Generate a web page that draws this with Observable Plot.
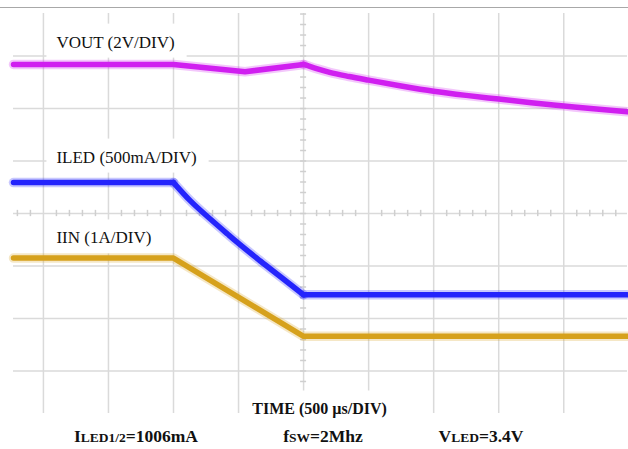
<!DOCTYPE html>
<html>
<head>
<meta charset="utf-8">
<script src="https://cdn.jsdelivr.net/npm/d3@7"></script>
<script src="https://cdn.jsdelivr.net/npm/@observablehq/plot@0.6"></script>
<style>
  html, body { margin: 0; padding: 0; background: #fff; }
  #wrap { position: relative; width: 628px; height: 449px; overflow: hidden; font-family: "Liberation Serif", serif; color: #111; }
  #sep { position: absolute; left: 0; top: 7px; width: 628px; height: 0; border-top: 1.5px solid #a8a8a8; }
  #caption { position: relative; width: 628px; height: 29px; }
  .cap { position: absolute; top: 8px; transform: translateX(-50%); font-weight: bold; font-size: 17.5px; line-height: 17px; white-space: nowrap; }
  .sc { font-size: 13.5px; }
</style>
</head>
<body>
<div id="wrap">
  <div id="chart"></div>
  <div id="caption"></div>
  <div id="sep"></div>
</div>
<script>
// ---- Data (time in µs, values in screen divisions from the centre line) ----
const voutTime = [-2230, -1000, -450, 0, 100, 200, 350, 500, 750, 1000, 1250, 1500, 1750, 2000, 2250, 2490];
const voutDiv  = [2.84, 2.84, 2.70, 2.84, 2.76, 2.69, 2.61, 2.54, 2.43, 2.33, 2.25, 2.18, 2.11, 2.05, 1.99, 1.94];

const iledTime = [-2230, -1000, -870, -715, -585, -500, -330, -175, 0, 2490];
const iledDiv  = [0.59, 0.59, 0.24, -0.11, -0.39, -0.57, -0.91, -1.21, -1.55, -1.55];

const iinTime = [-2230, -1000, 0, 2490];
const iinDiv  = [-0.85, -0.85, -2.34, -2.34];

const traceNames  = ["VOUT (2V/DIV)", "ILED (500mA/DIV)", "IIN (1A/DIV)"];
const traceColors = ["#d01ff0", "#2424fc", "#d6a11c"];
const axisTitle   = "TIME (500 µs/DIV)";
const captions = [
  [["I", false], ["LED1/2", true], ["=1006mA", false]],
  [["f", false], ["SW", true], ["=2Mhz", false]],
  [["V", false], ["LED", true], ["=3.4V", false]]
];

// ---- Build tables ----
const zip = (ts, vs) => ts.map((t, i) => ({t, v: vs[i]}));
const vout = zip(voutTime, voutDiv);
const iled = zip(iledTime, iledDiv);
const iin  = zip(iinTime, iinDiv);

// grid (500 µs/div horizontally, 1 div vertically, 5 minor ticks per div)
const majorTimes = d3.range(-2000, 2001, 500);
const majorDivs  = d3.range(-3, 4, 1);
const minorTimes = d3.range(-2200, 2500, 100).filter(t => t % 500 !== 0);
const minorDivs  = d3.range(-19, 20).map(k => k * 0.2);

const labelRows = [
  {t: -1900, v: 3.16, text: traceNames[0]},
  {t: -1900, v: 0.97, text: traceNames[1]},
  {t: -1900, v: -0.57, text: traceNames[2]}
];

const gridColor = "#dadada";

// draw a trace: sharp corners, smooth (monotone) where the scope trace curves
function trace(data, color, smoothFrom, smoothTo) {
  const parts = smoothFrom == null ? [[data, "linear"]] : [
    [data.filter(d => d.t <= smoothFrom), "linear"],
    [data.filter(d => d.t >= smoothFrom && d.t <= smoothTo), "monotone-x"],
    [data.filter(d => d.t >= smoothTo), "linear"]
  ];
  const marks = [];
  for (const [w, o] of [[9.5, 0.25], [5.5, 1]]) {
    for (const [seg, curve] of parts) {
      if (seg.length > 1) marks.push(Plot.line(seg, {x: "t", y: "v", curve, stroke: color, strokeWidth: w, strokeOpacity: o, strokeLinejoin: "round", strokeLinecap: "round"}));
    }
  }
  return marks;
}

const chart = Plot.plot({
  width: 628,
  height: 420,
  marginLeft: 13,
  marginRight: 1,
  marginTop: 13,
  marginBottom: 7,
  x: {domain: [-2230, 2490], axis: null},
  y: {domain: [-3.81, 3.81], axis: null},
  style: {background: "white", fontFamily: "'Liberation Serif', serif", overflow: "hidden"},
  marks: [
    Plot.ruleX(majorTimes, {stroke: gridColor, strokeWidth: 1.5}),
    Plot.ruleY(majorDivs, {stroke: gridColor, strokeWidth: 1.5}),
    Plot.ruleX(minorTimes, {y1: -0.06, y2: 0.06, stroke: "#cfcfcf", strokeWidth: 1.5}),
    Plot.ruleY(minorDivs, {x1: -23, x2: 23, stroke: "#cfcfcf", strokeWidth: 1.5}),
    Plot.text(labelRows, {x: "t", y: "v", text: "text", textAnchor: "start", lineAnchor: "bottom", fontSize: 17, fill: "#111"}),
    Plot.text([axisTitle], {x: 123, y: -3.81, text: d => d, textAnchor: "middle", lineAnchor: "bottom", fontSize: 16, fontWeight: "bold", fill: "#111"}),
    ...trace(vout, traceColors[0], 0, 2490),
    ...trace(iled, traceColors[1], -1000, 0),
    ...trace(iin, traceColors[2])
  ]
});

document.getElementById("chart").append(chart);

// white boxes behind the labels (as in the scope screenshot)
const svgRect = chart.getBoundingClientRect();
const textGroups = chart.querySelectorAll('g[aria-label="text"]');
if (textGroups.length) {
  const ns = "http://www.w3.org/2000/svg";
  const boxG = document.createElementNS(ns, "g");
  textGroups[0].parentNode.insertBefore(boxG, textGroups[0]);
  textGroups.forEach(g => g.querySelectorAll("text").forEach(t => {
    const r = t.getBoundingClientRect();
    const rect = document.createElementNS(ns, "rect");
    rect.setAttribute("x", r.left - svgRect.left - 10);
    rect.setAttribute("y", r.top - svgRect.top - 9);
    rect.setAttribute("width", r.width + 22);
    rect.setAttribute("height", r.height + 15);
    rect.setAttribute("fill", "white");
    boxG.append(rect);
  }));
}

// caption row
const capCenters = [136, 323, 481];
const cap = d3.select("#caption");
captions.forEach((parts, i) => {
  const d = cap.append("div").attr("class", "cap").style("left", capCenters[i] + "px");
  parts.forEach(([s, small]) => d.append("span").attr("class", small ? "sc" : null).text(s));
});
</script>
</body>
</html>
